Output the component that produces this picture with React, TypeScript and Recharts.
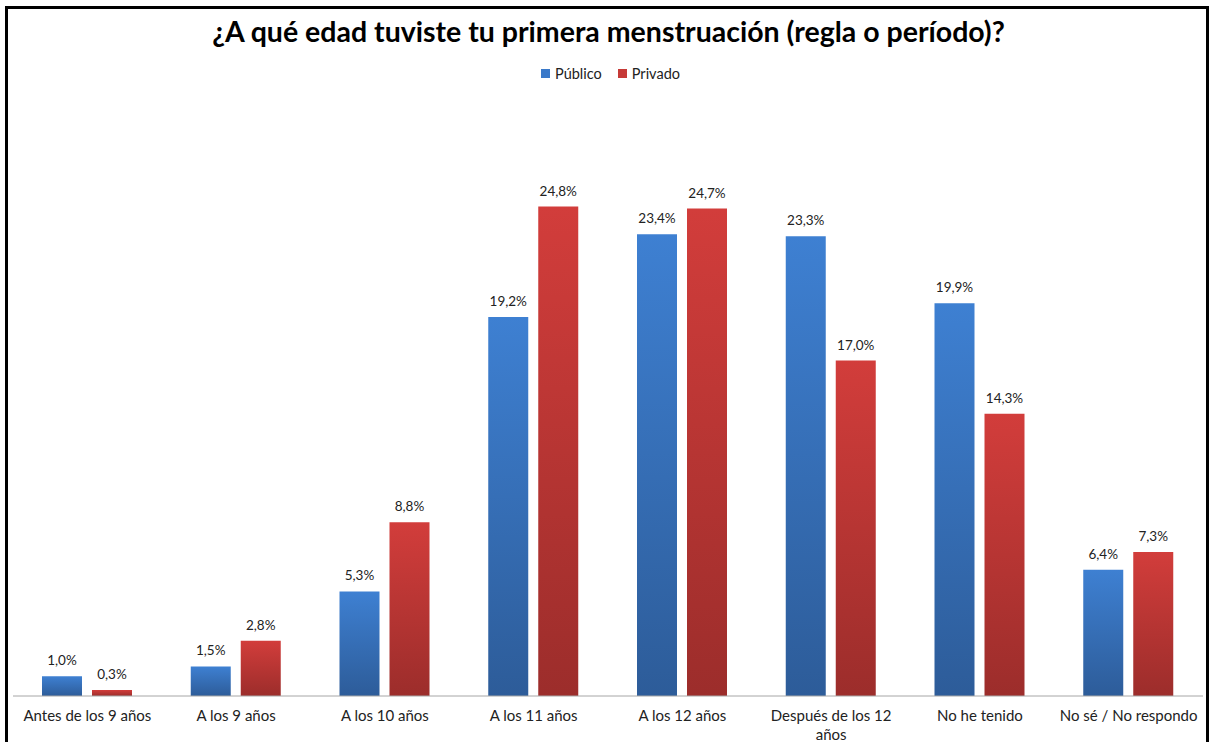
import { BarChart, Bar, XAxis, YAxis, LabelList, Text } from "recharts";

// ---------------------------------------------------------------------------
// Data
// ---------------------------------------------------------------------------

const CATEGORIES = [
	"Antes de los 9 años",
	"A los 9 años",
	"A los 10 años",
	"A los 11 años",
	"A los 12 años",
	"Después de los 12 años",
	"No he tenido",
	"No sé / No respondo",
];

const PUBLICO = [1.0, 1.5, 5.3, 19.2, 23.4, 23.3, 19.9, 6.4];
const PRIVADO = [0.3, 2.8, 8.8, 24.8, 24.7, 17.0, 14.3, 7.3];

const TITLE = "¿A qué edad tuviste tu primera menstruación (regla o período)?";

const rows = CATEGORIES.map((name, i) => ({
	name,
	publico: PUBLICO[i],
	privado: PRIVADO[i],
}));

// ---------------------------------------------------------------------------
// Style
// ---------------------------------------------------------------------------

const FONT = "Lato, 'Open Sans', sans-serif";
const BLUE = "#3a79c9";
const RED = "#c63a37";

const fmt = (v: unknown) => `${Number(v).toFixed(1).replace(".", ",")}%`;

function CategoryTick(props: any) {
	const { x, y, payload } = props;
	return (
		<Text
			x={x}
			y={y + 6}
			width={150}
			textAnchor="middle"
			verticalAnchor="start"
			lineHeight={19}
			style={{ fontFamily: FONT, fontSize: 15, fill: "#222" }}
		>
			{payload.value}
		</Text>
	);
}

function LegendItem({ color, label }: { color: string; label: string }) {
	return (
		<span style={{ display: "inline-flex", alignItems: "center", marginRight: 16 }}>
			<span style={{ width: 9, height: 9, background: color, display: "inline-block", marginRight: 5 }} />
			{label}
		</span>
	);
}

export default function App() {
	return (
		<div style={{ position: "absolute", left: 0, top: 0, width: 1209, height: 742, overflow: "hidden", background: "#fff" }}>
			<div
				style={{
					position: "absolute",
					left: 5,
					top: 6,
					width: 1204,
					height: 760,
					border: "3px solid #000",
					boxSizing: "border-box",
				}}
			/>
			<div
				style={{
					position: "absolute",
					left: 4,
					top: 13,
					width: 1209,
					textAlign: "center",
					fontFamily: FONT,
					fontWeight: 700,
					fontSize: 28.5,
					lineHeight: "36px",
					color: "#000",
				}}
			>
				{TITLE}
			</div>
			<div
				style={{
					position: "absolute",
					left: 14,
					top: 63,
					width: 1209,
					textAlign: "center",
					fontFamily: FONT,
					fontSize: 14.5,
					lineHeight: "20px",
					color: "#222",
				}}
			>
				<LegendItem color={BLUE} label="Público" />
				<LegendItem color={RED} label="Privado" />
			</div>
			<div style={{ position: "absolute", left: 0, top: 0 }}>
				<BarChart
					width={1209}
					height={742}
					data={rows}
					margin={{ top: 104, right: 6, left: 13, bottom: 16 }}
					barSize={40}
					barGap={10}
				>
					<defs>
						<linearGradient id="gBlue" x1="0" y1="0" x2="0" y2="1">
							<stop offset="0%" stopColor="#3e80d2" />
							<stop offset="100%" stopColor="#2d5c99" />
						</linearGradient>
						<linearGradient id="gRed" x1="0" y1="0" x2="0" y2="1">
							<stop offset="0%" stopColor="#d23d3b" />
							<stop offset="100%" stopColor="#9c2d2b" />
						</linearGradient>
					</defs>
					<XAxis
						dataKey="name"
						axisLine={{ stroke: "#a6a6a6" }}
						tickLine={false}
						interval={0}
						tick={<CategoryTick />}
					/>
					<YAxis hide domain={[0, 30]} />
					<Bar dataKey="publico" name="Público" fill="url(#gBlue)" isAnimationActive={false}>
						<LabelList
							dataKey="publico"
							position="top"
							offset={11}
							formatter={fmt}
							style={{ fontFamily: FONT, fontSize: 13.5, fill: "#222" }}
						/>
					</Bar>
					<Bar dataKey="privado" name="Privado" fill="url(#gRed)" isAnimationActive={false}>
						<LabelList
							dataKey="privado"
							position="top"
							offset={11}
							formatter={fmt}
							style={{ fontFamily: FONT, fontSize: 13.5, fill: "#222" }}
						/>
					</Bar>
				</BarChart>
			</div>
		</div>
	);
}
